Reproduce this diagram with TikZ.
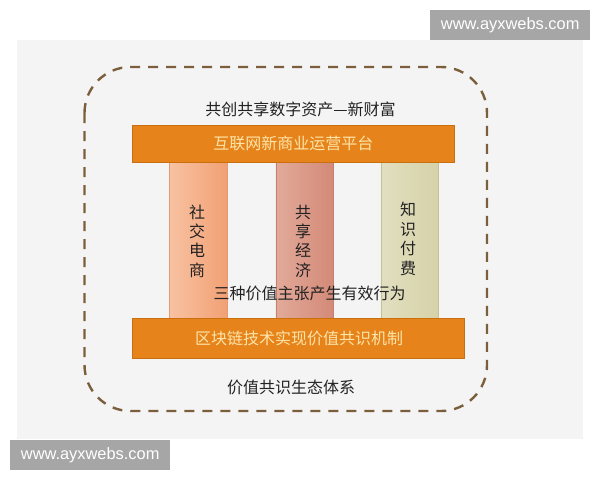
\documentclass[tikz,border=0pt]{standalone}
\usepackage{fontspec}
\setmainfont{Liberation Sans}
\newfontfamily\cjk{Noto Sans CJK SC}
\newfontfamily\wmfont{Liberation Sans}
\usetikzlibrary{positioning}
\definecolor{panelbg}{HTML}{F4F4F4}
\definecolor{wmgray}{HTML}{A6A6A6}
\definecolor{dashbrown}{HTML}{7B5F3C}
\definecolor{barorange}{HTML}{E6841B}
\definecolor{barborder}{HTML}{C8700F}
\definecolor{bartext}{HTML}{FDE4A8}
\definecolor{txtdark}{HTML}{222222}
\definecolor{pOneBorder}{HTML}{E69A72}
\definecolor{pTwoBorder}{HTML}{C5806E}
\definecolor{pThreeBorder}{HTML}{C4C098}
\tikzset{
  watermark/.style={fill=wmgray, text=white, font=\wmfont\fontsize{16.4}{18}\selectfont, inner sep=0pt, anchor=north west},
  barbox/.style={fill=barorange, draw=barborder, line width=0.6pt, text=bartext, font=\cjk\fontsize{16}{18}\selectfont, inner sep=0pt, anchor=north west},
  pillarbox/.style={shading=axis, shading angle=90, draw=#1, line width=0.5pt, inner sep=0pt, anchor=north west},
  darktext/.style={text=txtdark, font=\cjk\fontsize{16}{18}\selectfont, inner sep=0pt},
  vtext/.style={text=txtdark, font=\cjk\fontsize{16}{19.4}\selectfont, align=center, inner sep=0pt},
}
\begin{document}
\begin{tikzpicture}[x=1pt,y=-1pt]
\useasboundingbox (0,0) rectangle (600,480);
\fill[white] (0,0) rectangle (600,480);
% panel
\node[fill=panelbg, minimum width=566pt, minimum height=399pt, inner sep=0pt, anchor=north west] (panel) at (17,40) {};
% watermarks
\node[watermark, minimum width=160pt, minimum height=29.5pt] (wmtop) at (430,10) {};
\node (wmtoptext) at (wmtop.center) [text=white, font=\wmfont\fontsize{16.4}{18}\selectfont, inner sep=0pt] {www.ayxwebs.com};
\node[watermark, minimum width=160pt, minimum height=29.5pt] (wmbot) at (10,440) {};
\node (wmbottext) at (wmbot.center) [text=white, font=\wmfont\fontsize{16.4}{18}\selectfont, inner sep=0pt] {www.ayxwebs.com};
% dashed frame
\draw[dashbrown, line width=2.4pt, dash pattern=on 10pt off 8pt, rounded corners=46pt] (84.5,67) rectangle (487,411);
% pillars
\node[pillarbox=pOneBorder, left color={rgb,255:red,248;green,194;blue,162}, right color={rgb,255:red,242;green,160;blue,116}, minimum width=58pt, minimum height=157pt] (p1) at (169,161.5) {};
\node[pillarbox=pTwoBorder, left color={rgb,255:red,226;green,170;blue,154}, right color={rgb,255:red,212;green,138;blue,120}, minimum width=57pt, minimum height=157pt] (p2) at (275.5,161.5) {};
\node[pillarbox=pThreeBorder, left color={rgb,255:red,226;green,223;blue,193}, right color={rgb,255:red,214;green,210;blue,168}, minimum width=57pt, minimum height=157pt] (p3) at (380.5,161.5) {};
% bars
\node[barbox, minimum width=322pt, minimum height=37pt] (topbar) at (132,125) {};
\node[text=bartext, font=\cjk\fontsize{16}{18}\selectfont, inner sep=0pt] (topbartext) at (topbar.center) {互联网新商业运营平台};
\node[barbox, minimum width=332pt, minimum height=39.5pt] (botbar) at (132,318) {};
\node[text=bartext, font=\cjk\fontsize{16}{18}\selectfont, inner sep=0pt] (botbartext) at (299,338) {区块链技术实现价值共识机制};
% pillar texts
\node[vtext] (v1) at (197,241) {社\\交\\电\\商};
\node[vtext] (v2) at (303,241) {共\\享\\经\\济};
\node[vtext] (v3) at (408,239) {知\\识\\付\\费};
% texts
\node[darktext] (toptext) at (300.5,109) {共创共享数字资产—新财富};
\node[darktext] (midtext) at (309.5,293) {三种价值主张产生有效行为};
\node[darktext] (bottext) at (291,387) {价值共识生态体系};
\end{tikzpicture}
\end{document}
